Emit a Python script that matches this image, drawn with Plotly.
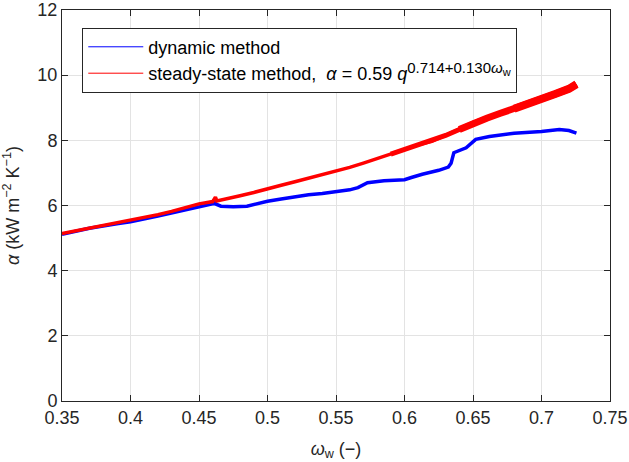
import plotly.graph_objects as go

# Steady-state method (red)
red_x = [0.35, 0.36, 0.37, 0.38, 0.39, 0.40, 0.41, 0.42, 0.43, 0.44, 0.45, 0.46,
         0.462, 0.463, 0.47, 0.48, 0.49, 0.50, 0.51, 0.52, 0.53, 0.54, 0.55, 0.56,
         0.57, 0.58, 0.59, 0.60, 0.61, 0.62, 0.63, 0.64, 0.65, 0.66, 0.67, 0.68,
         0.69, 0.70, 0.71, 0.72, 0.7255]
red_y = [5.14, 5.22, 5.32, 5.40, 5.47, 5.55, 5.64, 5.72, 5.82, 5.93, 6.05, 6.12,
         6.26, 6.14, 6.20, 6.30, 6.40, 6.50, 6.62, 6.73, 6.84, 6.95, 7.04, 7.17,
         7.30, 7.44, 7.58, 7.72, 7.86, 7.97, 8.15, 8.33, 8.53, 8.68, 8.83, 8.97,
         9.10, 9.24, 9.42, 9.58, 9.72]

# Dynamic method (blue)
blue_x = [0.35, 0.37, 0.39, 0.40, 0.42, 0.44, 0.45, 0.455, 0.460, 0.461, 0.462,
          0.466, 0.475, 0.485, 0.495, 0.50, 0.51, 0.52, 0.53, 0.54, 0.55, 0.56,
          0.566, 0.573, 0.585, 0.60, 0.605, 0.613, 0.625, 0.632, 0.634, 0.635,
          0.636, 0.645, 0.652, 0.662, 0.68, 0.70, 0.713, 0.72, 0.7255]
blue_y = [5.12, 5.30, 5.44, 5.50, 5.68, 5.87, 5.98, 6.02, 6.05, 6.18, 6.05,
          5.98, 5.96, 5.98, 6.08, 6.13, 6.20, 6.27, 6.33, 6.37, 6.42, 6.48,
          6.55, 6.70, 6.76, 6.79, 6.86, 6.96, 7.08, 7.18, 7.30, 7.50,
          7.62, 7.77, 8.03, 8.12, 8.22, 8.27, 8.33, 8.30, 8.22]

x_ticks = [0.35, 0.4, 0.45, 0.5, 0.55, 0.6, 0.65, 0.7, 0.75]
x_tick_text = ["0.35", "0.4", "0.45", "0.5", "0.55", "0.6", "0.65", "0.7", "0.75"]
y_ticks = [0, 2, 4, 6, 8, 10, 12]

BLUE_NAME = "dynamic method"
RED_NAME = ("steady-state method,  <i>α</i> = 0.59 <i>q</i>"
            "<sup><span style='font-size:15px'>0.714+0.130<i>ω</i>"
            "<sub><span style='font-size:11px'>w</span></sub></span></sup>")

FONT = "Liberation Sans, Arial, sans-serif"
AX = "#262626"
GRID = "#e3e3e3"

fig = go.Figure()
# data traces (thick, like the dense measured bands)
fig.add_trace(go.Scatter(
    x=blue_x, y=blue_y, mode="lines", showlegend=False,
    line=dict(color="#0000ff", width=3.5)))
fig.add_trace(go.Scatter(
    x=red_x, y=red_y, mode="lines", showlegend=False,
    line=dict(color="#ff0000", width=3.5)))
# red scatter band widens towards the right
fig.add_trace(go.Scatter(
    x=red_x[26:], y=red_y[26:], mode="lines", showlegend=False,
    line=dict(color="#ff0000", width=5)))
fig.add_trace(go.Scatter(
    x=red_x[31:], y=red_y[31:], mode="lines", showlegend=False,
    line=dict(color="#ff0000", width=7)))
fig.add_trace(go.Scatter(
    x=red_x[35:], y=red_y[35:], mode="lines", showlegend=False,
    line=dict(color="#ff0000", width=8)))
# legend entries with thin line samples
fig.add_trace(go.Scatter(
    x=[None], y=[None], mode="lines", name=BLUE_NAME,
    line=dict(color="#0000ff", width=1)))
fig.add_trace(go.Scatter(
    x=[None], y=[None], mode="lines", name=RED_NAME,
    line=dict(color="#ff0000", width=1)))

fig.update_layout(
    width=629, height=462,
    margin=dict(l=62, r=19, t=10, b=61),
    paper_bgcolor="white", plot_bgcolor="white",
    font=dict(family=FONT, size=18, color=AX),
    showlegend=True,
    legend=dict(
        x=0.037, y=0.955, xanchor="left", yanchor="top",
        bgcolor="white", bordercolor="#262626", borderwidth=1,
        font=dict(size=18, color="black"),
        tracegroupgap=0, itemwidth=55,
    ),
)
fig.update_xaxes(
    range=[0.35, 0.75], tickvals=x_ticks, ticktext=x_tick_text,
    showgrid=True, gridcolor=GRID, gridwidth=1,
    showline=True, linecolor=AX, linewidth=1, mirror="ticks",
    ticks="inside", ticklen=6, tickcolor=AX,
    zeroline=False, automargin=False,
    title=dict(text="<i>ω</i><sub>w</sub> (−)", font=dict(size=18, color=AX)),
)
fig.update_yaxes(
    range=[0, 12], tickvals=y_ticks,
    showgrid=True, gridcolor=GRID, gridwidth=1,
    showline=True, linecolor=AX, linewidth=1, mirror="ticks",
    ticks="inside", ticklen=6, tickcolor=AX,
    zeroline=False, automargin=False,
    title=dict(text="<i>α</i> (kW m<sup>−2</sup> K<sup>−1</sup>)", font=dict(size=18, color=AX)),
)

fig.write_html("out.html")
